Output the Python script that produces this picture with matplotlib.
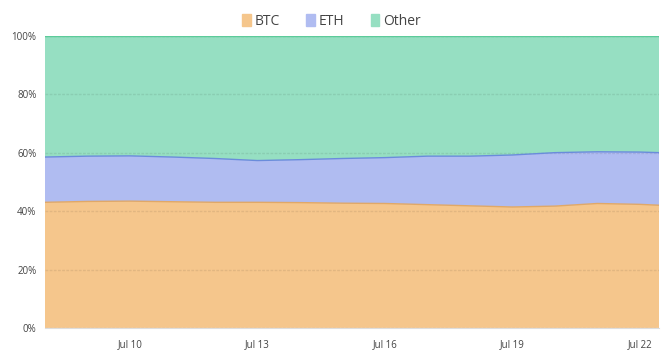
import numpy as np
import pandas as pd
import matplotlib
matplotlib.use("Agg")
from matplotlib import pyplot as plt
from matplotlib.patches import Patch
import matplotlib.dates as mdates

plt.rcParams['font.family'] = ['Open Sans', 'DejaVu Sans']

dates = pd.to_datetime(['2023-07-08 00:00', '2023-07-09 00:00', '2023-07-10 00:00', '2023-07-11 00:00',
                        '2023-07-12 00:00', '2023-07-13 00:00', '2023-07-14 00:00', '2023-07-15 00:00',
                        '2023-07-16 00:00', '2023-07-17 00:00', '2023-07-18 00:00', '2023-07-19 00:00',
                        '2023-07-20 00:00', '2023-07-21 00:00', '2023-07-22 00:00', '2023-07-22 11:00'],
                       format='%Y-%m-%d %H:%M')
btc = [43.0, 43.3, 43.4, 43.2, 43.0, 43.0, 42.9, 42.7, 42.6, 42.2, 41.8, 41.4, 41.7, 42.6, 42.3, 42.0]
eth_top = [58.5, 58.8, 58.9, 58.5, 58.0, 57.3, 57.6, 58.0, 58.3, 58.8, 58.8, 59.2, 60.0, 60.3, 60.2, 60.0]
eth = [t - b for t, b in zip(eth_top, btc)]
other = [100 - t for t in eth_top]

labels = ['BTC', 'ETH', 'Other']
fills = ['#F5C68C', '#B0BCF1', '#96DFC2']
edges = ['#E0A868', '#6A8CDB', '#5CCB9A']

fig = plt.figure(figsize=(6.7, 3.58), dpi=100)
ax = fig.add_axes([0.067, 0.084, 0.917, 0.816])

ax.stackplot(dates, btc, eth, other, colors=fills, linewidth=0, zorder=1)
cum = np.cumsum([btc, eth, other], axis=0)
for i in range(3):
    ax.plot(dates, cum[i], color=edges[i], lw=1.0, zorder=3)

ax.set_xlim(dates[0], dates[-1])
ax.set_ylim(0, 100)
ax.set_yticks([0, 20, 40, 60, 80, 100])
ax.set_yticklabels(['0%', '20%', '40%', '60%', '80%', '100%'])
ax.xaxis.set_major_locator(mdates.DayLocator(bymonthday=[10, 13, 16, 19, 22]))
ax.xaxis.set_major_formatter(mdates.DateFormatter('Jul %d'))
ax.grid(axis='y', color='#000000', alpha=0.08, lw=1, linestyle=(0, (2, 1)), zorder=2)
ax.set_axisbelow(False)
ax.tick_params(length=0, labelsize=7, colors='#444444', pad=8)
ax.tick_params(axis='y', pad=6)
for s in ['top', 'right', 'left']:
    ax.spines[s].set_visible(False)
ax.spines['bottom'].set_color('#dddddd')

handles = [Patch(facecolor=f, edgecolor=f) for f in fills]
fig.legend(handles, labels, loc='upper center', bbox_to_anchor=(0.495, 0.997), ncol=3,
           frameon=False, fontsize=10, handlelength=0.6, handleheight=0.9,
           columnspacing=1.9, handletextpad=0.3, labelcolor='#444444')

fig.savefig('out.png', dpi=100)
